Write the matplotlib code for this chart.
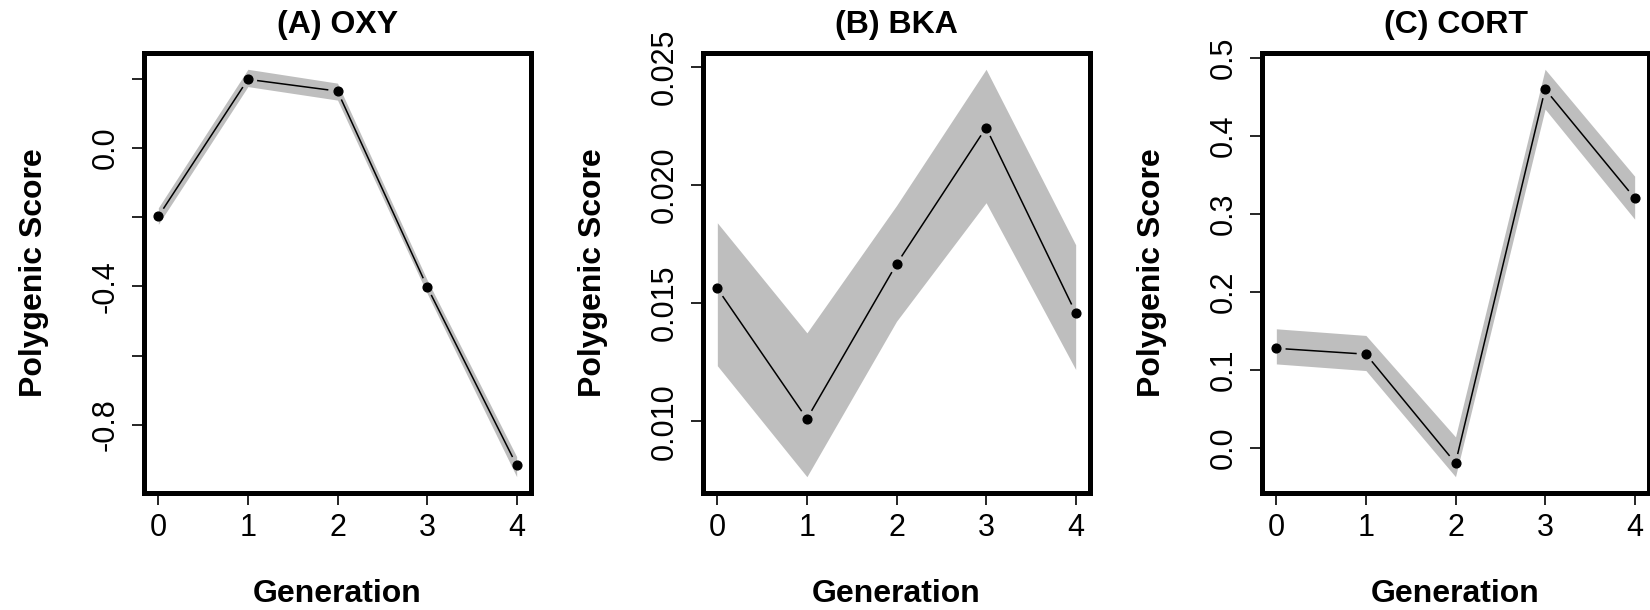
import numpy as np
import matplotlib
matplotlib.use('Agg')
import matplotlib.pyplot as plt

plt.rcParams['font.family'] = ['Liberation Sans', 'DejaVu Sans']
plt.rcParams['axes.unicode_minus'] = False

# Data (mean and shaded band per generation)
generation = [0, 1, 2, 3, 4]

oxy_mean = [-0.198, 0.198, 0.164, -0.401, -0.917]
oxy_lower = [-0.221, 0.177, 0.138, -0.420, -0.950]
oxy_upper = [-0.173, 0.227, 0.187, -0.381, -0.892]

bka_mean = [0.01562, 0.0101, 0.01665, 0.02243, 0.01459]
bka_lower = [0.01235, 0.00765, 0.01423, 0.01925, 0.01219]
bka_upper = [0.0184, 0.01374, 0.01913, 0.0249, 0.01747]

cort_mean = [0.1275, 0.120, -0.0195, 0.4595, 0.320]
cort_lower = [0.1075, 0.099, -0.037, 0.434, 0.293]
cort_upper = [0.1525, 0.144, 0.014, 0.485, 0.348]

titles = ['(A) OXY', '(B) BKA', '(C) CORT']
yticks = [[-0.8, -0.6, -0.4, -0.2, 0.0, 0.2],
          [0.010, 0.015, 0.020, 0.025],
          [0.0, 0.1, 0.2, 0.3, 0.4, 0.5]]
ytick_labels = [['-0.8', '', '-0.4', '', '0.0', ''],
                ['0.010', '0.015', '0.020', '0.025'],
                ['0.0', '0.1', '0.2', '0.3', '0.4', '0.5']]
panels = [(oxy_mean, oxy_lower, oxy_upper),
          (bka_mean, bka_lower, bka_upper),
          (cort_mean, cort_lower, cort_upper)]

W, H = 1650, 610
fig = plt.figure(figsize=(W / 100, H / 100), dpi=100)
lefts = [144, 703, 1262]
ax_w, ax_top, ax_bot = 387, 53, 493


def r_range(lo, hi):
    # R's default 4% axis extension
    ext = (hi - lo) * 0.04
    return lo - ext, hi + ext


def gapped_line(ax, x, y, gap_px=10):
    # mimic R type="b": segments stop short of the points
    pts = ax.transData.transform(np.column_stack([x, y]))
    inv = ax.transData.inverted()
    for p0, p1 in zip(pts[:-1], pts[1:]):
        d = p1 - p0
        L = np.hypot(d[0], d[1])
        if L <= 2 * gap_px:
            continue
        u = d / L
        a = inv.transform(p0 + u * gap_px)
        b = inv.transform(p1 - u * gap_px)
        ax.plot([a[0], b[0]], [a[1], b[1]], color='black', lw=1.1, zorder=3)


for i, (mean, lower, upper) in enumerate(panels):
    ax = fig.add_axes([lefts[i] / W, (H - ax_bot) / H, ax_w / W, (ax_bot - ax_top) / H])
    ax.set_xlim(*r_range(0, 4))
    ax.set_ylim(*r_range(min(lower), max(upper)))

    ax.fill_between(generation, lower, upper, color='#bebebe', lw=0, zorder=1)
    gapped_line(ax, generation, mean)
    ax.plot(generation, mean, 'o', color='black', markersize=6.3, zorder=4)

    ax.set_xticks(generation)
    ax.set_yticks(yticks[i])
    ax.set_yticklabels(ytick_labels[i], rotation=90, va='center')
    ax.tick_params(axis='both', direction='out', length=8.5, width=1.2, labelsize=22)
    ax.tick_params(axis='x', pad=6.2)
    ax.tick_params(axis='y', pad=8.4)
    for sp in ax.spines.values():
        sp.set_linewidth(3.6)

    ax.set_title(titles[i], fontsize=23, fontweight='bold', pad=14.4)
    ax.set_xlabel('Generation', fontsize=23, fontweight='bold', va='center')
    ax.xaxis.set_label_coords(0.5, -(594 - ax_bot) / (ax_bot - ax_top))
    ax.set_ylabel('Polygenic Score', fontsize=23, fontweight='bold', va='center')
    ax.yaxis.set_label_coords(-110.3 / ax_w, 0.5)

fig.savefig('out.png', dpi=100)
